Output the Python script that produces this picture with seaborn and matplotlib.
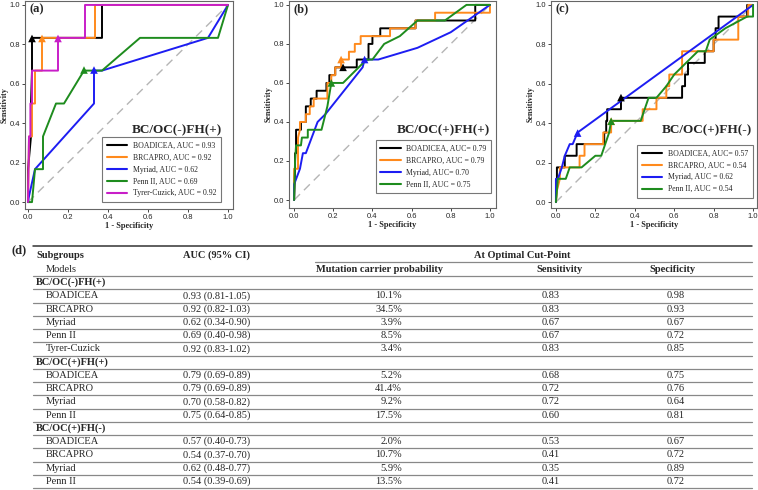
import numpy as np
import pandas as pd
import matplotlib
matplotlib.use("Agg")
import matplotlib.pyplot as plt
from matplotlib.lines import Line2D
import seaborn as sns

sns.set_style("white")
plt.rcParams["font.family"] = ["Liberation Serif", "DejaVu Serif"]

COLORS = {
    "BOADICEA": "#000000",
    "BRCAPRO": "#ff8a1c",
    "Myriad": "#1d1df2",
    "Penn II": "#1e8c1e",
    "Tyrer-Cuzick": "#c81ec8",
}

# ---- table (d) data ----
SUBGROUPS = ["BC/OC(-)FH(+)", "BC/OC(+)FH(+)", "BC/OC(+)FH(-)"]
TAB_GROUP = [0, 0, 0, 0, 0, 1, 1, 1, 1, 2, 2, 2, 2]
TAB_MODEL = ["BOADICEA", "BRCAPRO", "Myriad", "Penn II", "Tyrer-Cuzick",
             "BOADICEA", "BRCAPRO", "Myriad", "Penn II",
             "BOADICEA", "BRCAPRO", "Myriad", "Penn II"]
TAB_AUC = [0.93, 0.92, 0.62, 0.69, 0.92, 0.79, 0.79, 0.70, 0.75, 0.57, 0.54, 0.62, 0.54]
TAB_LO = [0.81, 0.82, 0.34, 0.40, 0.83, 0.69, 0.69, 0.58, 0.64, 0.40, 0.37, 0.48, 0.39]
TAB_HI = [1.05, 1.03, 0.90, 0.98, 1.02, 0.89, 0.89, 0.82, 0.85, 0.73, 0.70, 0.77, 0.69]
TAB_PROB = [10.1, 34.5, 3.9, 8.5, 3.4, 5.2, 41.4, 9.2, 17.5, 2.0, 10.7, 5.9, 13.5]
TAB_SENS = [0.83, 0.83, 0.67, 0.67, 0.83, 0.68, 0.72, 0.72, 0.60, 0.53, 0.41, 0.35, 0.41]
TAB_SPEC = [0.98, 0.93, 0.67, 0.72, 0.85, 0.75, 0.76, 0.64, 0.81, 0.67, 0.72, 0.89, 0.72]

# legend label separators as printed in each panel
SEP_A = ["AUC = ", "AUC = ", "AUC = ", "AUC = ", "AUC = "]
SEP_B = ["AUC= ", "AUC = ", "AUC= ", "AUC = "]
SEP_C = ["AUC= ", "AUC = ", "AUC = ", "AUC = "]

# ---- ROC curves (1 - specificity, sensitivity) ----
# (a) BC/OC(-)FH(+)
A_BOADICEA_X = [0, 0, 0.015, 0.015, 0.02, 0.02, 0.37, 0.37, 1.0]
A_BOADICEA_Y = [0, 0.167, 0.333, 0.5, 0.667, 0.833, 0.833, 1.0, 1.0]
A_BRCAPRO_X = [0, 0.005, 0.02, 0.02, 0.035, 0.035, 0.07, 0.07, 0.335, 0.335, 1.0]
A_BRCAPRO_Y = [0, 0.333, 0.333, 0.5, 0.5, 0.667, 0.667, 0.833, 0.833, 1.0, 1.0]
A_MYRIAD_X = [0, 0.005, 0.035, 0.33, 0.33, 0.37, 0.9, 1.0]
A_MYRIAD_Y = [0, 0.03, 0.167, 0.5, 0.667, 0.667, 0.833, 1.0]
A_PENN_X = [0, 0.02, 0.035, 0.075, 0.075, 0.14, 0.18, 0.28, 0.37, 0.56, 0.95, 1.0]
A_PENN_Y = [0, 0, 0.167, 0.167, 0.333, 0.5, 0.5, 0.667, 0.667, 0.833, 0.833, 1.0]
A_TYRER_X = [0, 0.005, 0.012, 0.012, 0.02, 0.02, 0.15, 0.15, 0.285, 0.285, 1.0]
A_TYRER_Y = [0, 0.333, 0.333, 0.5, 0.5, 0.667, 0.667, 0.833, 0.833, 1.0, 1.0]

# (b) BC/OC(+)FH(+)
B_BOADICEA_X = [0, 0.005, 0.005, 0.01, 0.01, 0.035, 0.035, 0.06, 0.06, 0.085, 0.085, 0.115,
                0.115, 0.165, 0.165, 0.18, 0.18, 0.21, 0.21, 0.32, 0.32, 0.38, 0.38, 0.40,
                0.40, 0.44, 0.44, 0.62, 0.62, 0.925, 0.925, 1.0]
B_BOADICEA_Y = [0, 0.16, 0.24, 0.24, 0.36, 0.36, 0.40, 0.40, 0.48, 0.48, 0.52, 0.52,
                0.56, 0.56, 0.60, 0.60, 0.64, 0.64, 0.68, 0.68, 0.72, 0.72, 0.80, 0.80,
                0.84, 0.84, 0.88, 0.88, 0.92, 0.92, 1.0, 1.0]
B_BRCAPRO_X = [0, 0, 0.02, 0.02, 0.03, 0.03, 0.06, 0.06, 0.08, 0.08, 0.10, 0.10, 0.17, 0.17,
               0.19, 0.19, 0.21, 0.21, 0.24, 0.24, 0.28, 0.28, 0.31, 0.31, 0.34, 0.34, 0.49,
               0.49, 0.62, 0.62, 0.72, 0.72, 1.0, 1.0]
B_BRCAPRO_Y = [0, 0.16, 0.16, 0.32, 0.36, 0.40, 0.40, 0.44, 0.44, 0.48, 0.48, 0.52, 0.52, 0.60,
               0.60, 0.64, 0.64, 0.68, 0.68, 0.72, 0.72, 0.76, 0.76, 0.80, 0.80, 0.84, 0.84,
               0.88, 0.88, 0.92, 0.92, 0.96, 0.96, 1.0]
B_MYRIAD_X = [0, 0, 0.03, 0.045, 0.06, 0.12, 0.16, 0.35, 0.36, 0.43, 0.63, 0.80, 1.0]
B_MYRIAD_Y = [0, 0.08, 0.16, 0.24, 0.24, 0.40, 0.44, 0.68, 0.72, 0.72, 0.78, 0.86, 1.0]
B_PENN_X = [0, 0.005, 0.01, 0.035, 0.04, 0.07, 0.07, 0.14, 0.17, 0.19, 0.25, 0.33, 0.37,
            0.40, 0.46, 0.54, 0.63, 0.77, 0.88, 1.0]
B_PENN_Y = [0, 0.20, 0.28, 0.28, 0.32, 0.32, 0.36, 0.36, 0.48, 0.60, 0.60, 0.68, 0.72,
            0.72, 0.80, 0.84, 0.92, 0.92, 1.0, 1.0]

# (c) BC/OC(+)FH(-)
C_BOADICEA_X = [0, 0.005, 0.005, 0.045, 0.045, 0.105, 0.105, 0.245, 0.245, 0.255, 0.255, 0.26,
                0.26, 0.33, 0.33, 0.64, 0.64, 0.655, 0.655, 0.67, 0.67, 0.755, 0.755, 0.80,
                0.80, 0.81, 0.81, 0.825, 0.825, 0.97, 0.97, 1.0]
C_BOADICEA_Y = [0, 0.118, 0.176, 0.176, 0.235, 0.235, 0.294, 0.294, 0.353, 0.353, 0.412, 0.412,
                0.471, 0.471, 0.529, 0.529, 0.588, 0.588, 0.647, 0.647, 0.706, 0.706, 0.765, 0.765,
                0.824, 0.824, 0.882, 0.882, 0.941, 0.941, 1.0, 1.0]
C_BRCAPRO_X = [0, 0.005, 0.02, 0.02, 0.12, 0.12, 0.145, 0.145, 0.24, 0.24, 0.28, 0.28, 0.44,
               0.44, 0.51, 0.51, 0.56, 0.56, 0.575, 0.575, 0.64, 0.64, 0.80, 0.80, 0.925,
               0.925, 0.975, 0.975, 1.0]
C_BRCAPRO_Y = [0, 0.059, 0.118, 0.176, 0.176, 0.235, 0.235, 0.294, 0.294, 0.353, 0.353, 0.412,
               0.412, 0.471, 0.471, 0.529, 0.529, 0.588, 0.588, 0.647, 0.647, 0.765, 0.765,
               0.824, 0.824, 0.941, 0.941, 1.0, 1.0]
C_MYRIAD_X = [0, 0, 0.01, 0.03, 0.045, 0.07, 0.085, 0.11, 1.0]
C_MYRIAD_Y = [0, 0.118, 0.118, 0.176, 0.235, 0.294, 0.294, 0.353, 1.0]
C_PENN_X = [0, 0.01, 0.05, 0.07, 0.13, 0.20, 0.23, 0.27, 0.28, 0.43, 0.47, 0.51, 0.56, 0.60,
            0.66, 0.72, 0.76, 0.78, 0.86, 0.97, 1.0, 1.0]
C_PENN_Y = [0, 0.118, 0.118, 0.176, 0.176, 0.235, 0.235, 0.353, 0.412, 0.412, 0.529, 0.529,
            0.588, 0.647, 0.706, 0.765, 0.765, 0.824, 0.882, 0.941, 0.941, 1.0]

PANELS = [
    dict(tag="(a)", group=0, sep=SEP_A,
         curves=[(A_BOADICEA_X, A_BOADICEA_Y), (A_BRCAPRO_X, A_BRCAPRO_Y), (A_MYRIAD_X, A_MYRIAD_Y),
                 (A_PENN_X, A_PENN_Y), (A_TYRER_X, A_TYRER_Y)],
         box=(25, 1, 233, 209), xlim=(-0.015, 1.025), ylim=(-0.035, 1.02),
         leg=(0.96, 0.015), title_xy=(0.947, 0.38), ylab_x=-0.078),
    dict(tag="(b)", group=1, sep=SEP_B,
         curves=[(B_BOADICEA_X, B_BOADICEA_Y), (B_BRCAPRO_X, B_BRCAPRO_Y), (B_MYRIAD_X, B_MYRIAD_Y),
                 (B_PENN_X, B_PENN_Y)],
         box=(289, 1, 496, 208), xlim=(-0.026, 1.031), ylim=(-0.041, 1.02),
         leg=(0.995, 0.053), title_xy=(0.97, 0.377), ylab_x=-0.08),
    dict(tag="(c)", group=2, sep=SEP_C,
         curves=[(C_BOADICEA_X, C_BOADICEA_Y), (C_BRCAPRO_X, C_BRCAPRO_Y), (C_MYRIAD_X, C_MYRIAD_Y),
                 (C_PENN_X, C_PENN_Y)],
         box=(551, 1, 757, 208), xlim=(-0.025, 1.02), ylim=(-0.03, 1.02),
         leg=(0.998, 0.03), title_xy=(0.976, 0.377), ylab_x=-0.08),
]

W, H = 758, 490
fig = plt.figure(figsize=(W / 100, H / 100), dpi=100)

for p in PANELS:
    x0, y0, x1, y1 = p["box"]
    ax = fig.add_axes([x0 / W, 1 - y1 / H, (x1 - x0) / W, (y1 - y0) / H])
    idx = [i for i, g in enumerate(TAB_GROUP) if g == p["group"]]
    names = [TAB_MODEL[i] for i in idx]

    frames = [pd.DataFrame({"fpr": cx, "tpr": cy, "model": m})
              for (cx, cy), m in zip(p["curves"], names)]
    roc = pd.concat(frames, ignore_index=True)
    cut = pd.DataFrame({"fpr": [1 - TAB_SPEC[i] for i in idx],
                        "tpr": [TAB_SENS[i] for i in idx],
                        "model": names})

    ax.plot([0, 1], [0, 1], color="#b5b5b5", lw=1.0, ls=(0, (6, 4)), zorder=1)
    sns.lineplot(data=roc, x="fpr", y="tpr", hue="model", palette=COLORS, sort=False,
                 estimator=None, lw=1.4, legend=False, ax=ax, zorder=2)
    sns.scatterplot(data=cut, x="fpr", y="tpr", hue="model", palette=COLORS, marker="^",
                    s=30, linewidth=0, legend=False, ax=ax, zorder=3)

    ax.set_xlim(*p["xlim"])
    ax.set_ylim(*p["ylim"])
    ax.set_xticks(np.arange(0, 1.01, 0.2))
    ax.set_yticks(np.arange(0, 1.01, 0.2))
    ax.tick_params(axis="both", labelsize=5.5, length=2.5, width=0.6, pad=1,
                   bottom=True, left=True)
    for lab in ax.get_xticklabels() + ax.get_yticklabels():
        lab.set_family("Liberation Sans")
    for s in ax.spines.values():
        s.set_color("#666666")
        s.set_linewidth(0.8)
    ax.set_xlabel("1 - Specificity", fontsize=6, fontweight="bold", labelpad=1)
    ax.set_ylabel("Sensitivity", fontsize=5.8, fontweight="bold")
    ax.yaxis.set_label_coords(p["ylab_x"], 0.5)

    ax.text(0.02, 0.99, p["tag"], transform=ax.transAxes, ha="left", va="top",
            fontsize=9, fontweight="bold")
    ax.text(p["title_xy"][0], p["title_xy"][1], SUBGROUPS[p["group"]], transform=ax.transAxes,
            ha="right", va="center", fontsize=9.5, fontweight="bold")

    handles = [Line2D([0], [0], color=COLORS[m], lw=1.5) for m in names]
    labels = [f"{m}, {sep}{TAB_AUC[i]:.2f}" for m, sep, i in zip(names, p["sep"], idx)]
    leg = ax.legend(handles, labels, loc="lower right", bbox_to_anchor=p["leg"],
                    fontsize=5.6, frameon=True, fancybox=False, handlelength=2.6,
                    handletextpad=0.7, labelspacing=0.5, borderpad=0.6)
    leg.get_frame().set_edgecolor("#555555")
    leg.get_frame().set_linewidth(0.8)

# ---- table (d) ----
tab = fig.add_axes([0, 0, 1, 1], zorder=-1)
tab.set_xlim(0, W)
tab.set_ylim(H, 0)
tab.axis("off")

FS = 7.5
L, R = 33, 752
X_NAME, X_GROUP, X_AUC, X_PROB, X_SENS, X_SPEC = 46, 36, 183, 402, 551, 676
tab.text(12, 250, "(d)", fontsize=9, fontweight="bold", va="center")
tab.plot([L, R], [246, 246], color="#333333", lw=1.1)
tab.text(X_GROUP, 255, "Subgroups", fontsize=FS, fontweight="bold", va="center")
tab.text(X_AUC, 255, "AUC (95% CI)", fontsize=FS, fontweight="bold", va="center")
tab.text(522, 255, "At Optimal Cut-Point", fontsize=FS, fontweight="bold", va="center", ha="center")
tab.plot([315, R], [262, 262], color="#888888", lw=0.9)
tab.text(X_NAME, 269, "Models", fontsize=FS, va="center")
tab.text(380, 269, "Mutation carrier probability", fontsize=FS, fontweight="bold", va="center", ha="center")
tab.text(560, 269, "Sensitivity", fontsize=FS, fontweight="bold", va="center", ha="center")
tab.text(672, 269, "Specificity", fontsize=FS, fontweight="bold", va="center", ha="center")
tab.plot([L, R], [276, 276], color="#888888", lw=0.9)

step = 13.25
k = 0
for g, sub in enumerate(SUBGROUPS):
    yc = 276 + step * (k + 0.5)
    tab.text(X_GROUP, yc, sub, fontsize=FS, fontweight="bold", va="center")
    k += 1
    tab.plot([L, R], [276 + step * k] * 2, color="#888888", lw=0.9)
    for i in [j for j, gg in enumerate(TAB_GROUP) if gg == g]:
        yc = 276 + step * (k + 0.5)
        tab.text(X_NAME, yc, TAB_MODEL[i], fontsize=FS, va="center")
        tab.text(X_AUC, yc, f"{TAB_AUC[i]:.2f} ({TAB_LO[i]:.2f}-{TAB_HI[i]:.2f})", fontsize=FS, va="center")
        tab.text(X_PROB, yc, f"{TAB_PROB[i]:.1f}%", fontsize=FS, va="center", ha="right")
        tab.text(X_SENS, yc, f"{TAB_SENS[i]:.2f}", fontsize=FS, va="center", ha="center")
        tab.text(X_SPEC, yc, f"{TAB_SPEC[i]:.2f}", fontsize=FS, va="center", ha="center")
        k += 1
        tab.plot([L, R], [276 + step * k] * 2, color="#888888", lw=0.9)

fig.savefig("out.png", dpi=100)
